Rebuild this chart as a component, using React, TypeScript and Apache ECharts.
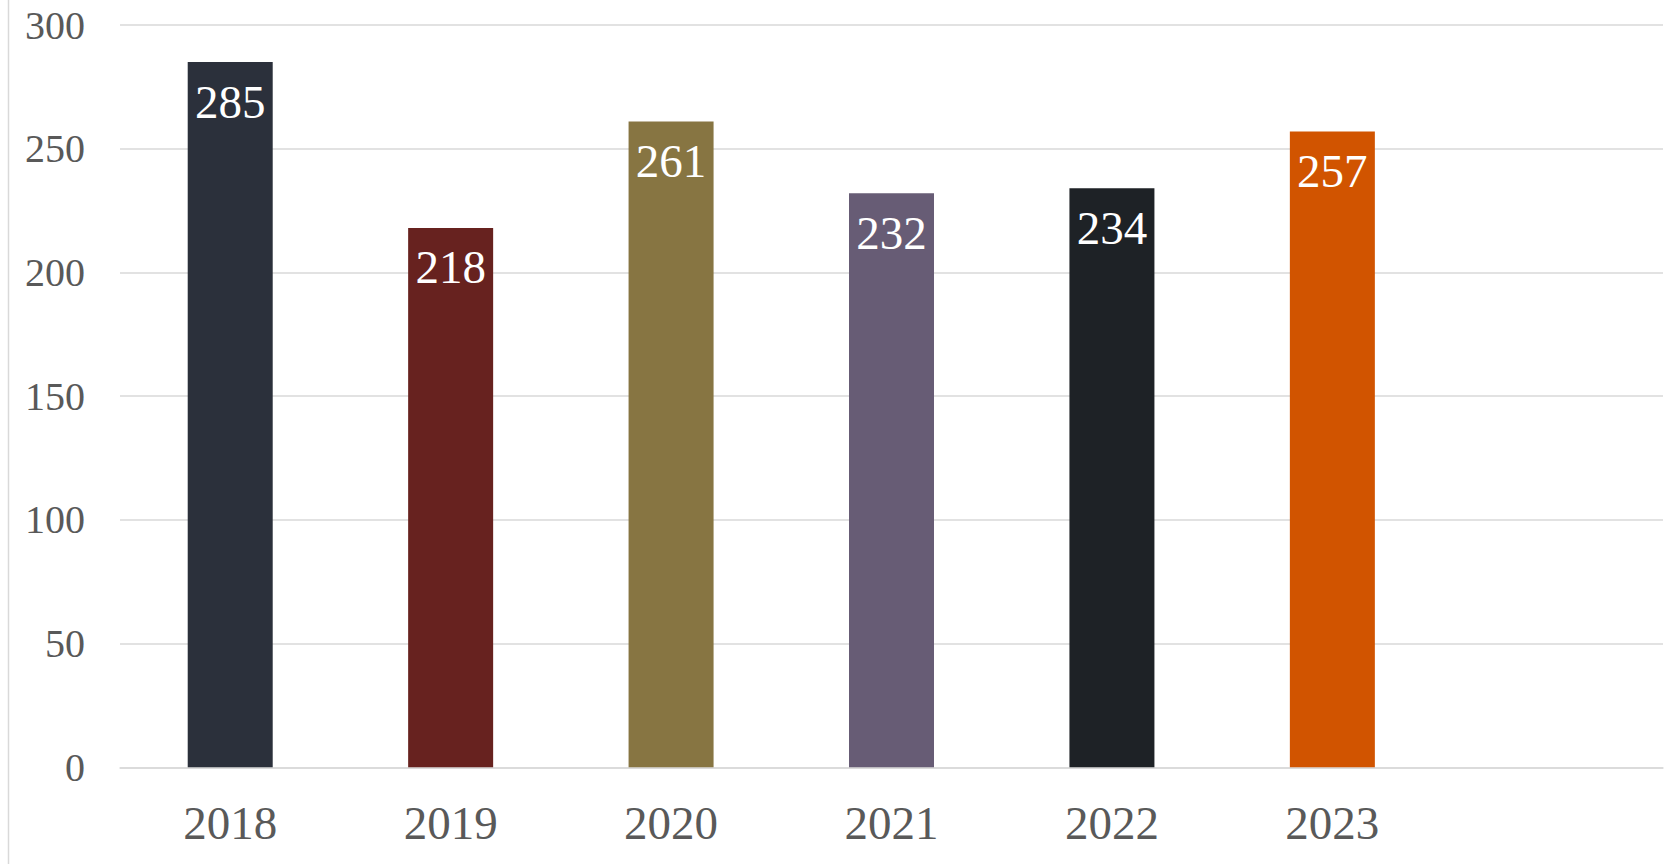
import React, { useEffect, useRef } from "react";
import * as echarts from "echarts";

const categories = ["2018", "2019", "2020", "2021", "2022", "2023", ""];
const values = [285, 218, 261, 232, 234, 257];
const barColors = ["#2B303B", "#67221F", "#877542", "#675C75", "#1E2226", "#D15400"];
const yTicks = [0, 50, 100, 150, 200, 250, 300];

const SERIF = "Liberation Serif";

export default function App() {
  const ref = useRef<HTMLDivElement>(null);
  useEffect(() => {
    if (!ref.current) return;
    const chart = echarts.init(ref.current, null, { renderer: "svg" });
    chart.setOption({
      animation: false,
      backgroundColor: "#ffffff",
      graphic: [
        {
          type: "line",
          shape: { x1: 8.5, y1: 0, x2: 8.5, y2: 864 },
          style: { stroke: "#D9D9D9", lineWidth: 1.5 },
          silent: true,
        },
      ],
      grid: { left: 120, right: 2, top: 25, bottom: 864 - 767.3, containLabel: false },
      xAxis: {
        type: "category",
        data: categories,
        axisLine: { show: true, lineStyle: { color: "#D9D9D9", width: 1.5 } },
        axisTick: { show: false },
        axisLabel: {
          color: "#595959",
          fontSize: 47,
          fontFamily: SERIF,
          margin: 32,
        },
      },
      yAxis: {
        type: "value",
        min: yTicks[0],
        max: yTicks[yTicks.length - 1],
        interval: 50,
        axisLine: { show: false },
        axisTick: { show: false },
        splitLine: { lineStyle: { color: "#D9D9D9", width: 1.5 } },
        axisLabel: {
          color: "#595959",
          fontSize: 40,
          fontFamily: SERIF,
          margin: 35,
          padding: [0, 0, 2, 0],
        },
      },
      series: [
        {
          type: "bar",
          barWidth: 85,
          data: values.map((v, i) => ({ value: v, itemStyle: { color: barColors[i] } })),
          label: {
            show: true,
            position: "insideTop",
            distance: 16,
            color: "#ffffff",
            fontSize: 47,
            fontFamily: SERIF,
          },
        },
      ],
    });
    return () => chart.dispose();
  }, []);
  return (
    <div
      ref={ref}
      style={{ position: "absolute", left: 0, top: 0, width: 1665, height: 864 }}
    />
  );
}
